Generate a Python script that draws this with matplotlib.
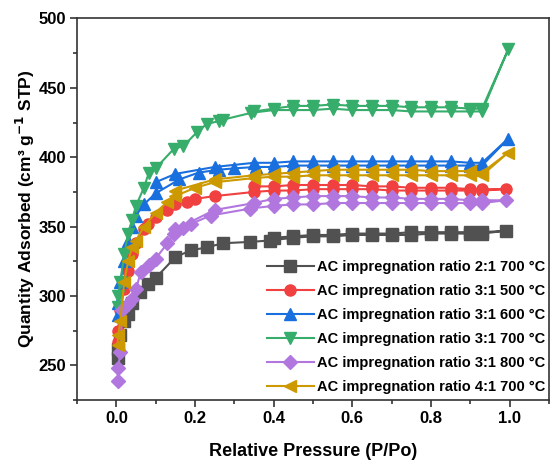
import numpy as np
import matplotlib.pyplot as plt

plt.rcParams['font.family'] = ['Liberation Sans', 'DejaVu Sans']
plt.rcParams['font.weight'] = 'bold'

# adsorption branch followed by desorption branch (P/Po, quantity adsorbed)
x_21_700 = [0.003, 0.005, 0.01, 0.02, 0.03, 0.04, 0.06, 0.08, 0.1, 0.15, 0.19, 0.23, 0.27, 0.34, 0.39, 0.45,
            0.5, 0.55, 0.6, 0.65, 0.7, 0.75, 0.8, 0.85, 0.9, 0.93, 0.99,
            0.93, 0.9, 0.85, 0.8, 0.75, 0.7, 0.65, 0.6, 0.55, 0.5, 0.45, 0.4]
y_21_700 = [255, 262, 272, 282, 287, 295, 303, 309, 313, 328, 333, 335, 338, 339, 340, 342,
            343, 343, 344, 344, 344, 344, 345, 345, 345, 345, 347,
            346, 346, 346, 346, 346, 345, 345, 345, 344, 344, 343, 342]

x_31_500 = [0.003, 0.005, 0.01, 0.02, 0.03, 0.04, 0.05, 0.07, 0.08, 0.1, 0.13, 0.15, 0.18, 0.2, 0.25,
            0.35, 0.4, 0.45, 0.5, 0.55, 0.6, 0.65, 0.7, 0.75, 0.8, 0.85, 0.9, 0.93, 0.99,
            0.93, 0.9, 0.85, 0.8, 0.75, 0.7, 0.65, 0.6, 0.55, 0.5, 0.45, 0.4, 0.35]
y_31_500 = [267, 275, 290, 305, 318, 330, 338, 348, 352, 357, 362, 366, 368, 370, 372,
            375, 376, 376, 377, 377, 377, 377, 376, 376, 376, 376, 376, 376, 377,
            377, 377, 378, 378, 378, 379, 379, 380, 380, 380, 380, 379, 379]

x_31_600 = [0.003, 0.005, 0.01, 0.02, 0.03, 0.04, 0.05, 0.07, 0.1, 0.16, 0.21, 0.26, 0.3, 0.355,
            0.4, 0.45, 0.5, 0.55, 0.6, 0.65, 0.7, 0.75, 0.8, 0.85, 0.9, 0.93, 0.995,
            0.93, 0.9, 0.85, 0.8, 0.75, 0.7, 0.65, 0.6, 0.55, 0.5, 0.45, 0.4, 0.35, 0.25, 0.15, 0.1]
y_31_600 = [286, 295, 310, 325, 340, 350, 358, 366, 374, 384, 389, 391, 392, 393,
            393, 394, 394, 394, 394, 394, 394, 394, 394, 394, 394, 394, 413,
            396, 396, 397, 397, 397, 397, 397, 397, 397, 397, 397, 396, 396, 393, 388, 382]

x_31_700 = [0.003, 0.005, 0.01, 0.02, 0.03, 0.04, 0.05, 0.07, 0.083, 0.1, 0.146, 0.17, 0.205, 0.23,
            0.26, 0.27, 0.343, 0.4, 0.45, 0.5, 0.55, 0.6, 0.65, 0.7, 0.75, 0.8, 0.85, 0.9, 0.93, 0.997,
            0.93, 0.9, 0.85, 0.8, 0.75, 0.7, 0.65, 0.6, 0.55, 0.5, 0.45, 0.4, 0.35]
y_31_700 = [292, 300, 310, 330, 345, 355, 365, 378, 389, 392, 406, 408, 418, 424,
            426, 427, 432, 434, 434, 434, 435, 434, 434, 434, 433, 433, 433, 433, 433, 478,
            435, 435, 436, 436, 436, 437, 437, 437, 438, 437, 437, 435, 433]

x_31_800 = [0.003, 0.005, 0.01, 0.015, 0.03, 0.04, 0.05, 0.062, 0.083, 0.1, 0.13, 0.147, 0.17, 0.19, 0.24,
            0.34, 0.4, 0.45, 0.5, 0.55, 0.6, 0.65, 0.7, 0.75, 0.8, 0.85, 0.9, 0.93, 0.99,
            0.93, 0.9, 0.85, 0.8, 0.75, 0.7, 0.65, 0.6, 0.55, 0.5, 0.45, 0.4, 0.35, 0.25, 0.15]
y_31_800 = [239, 248, 260, 290, 294, 298, 305, 317, 322, 327, 338, 345, 349, 352, 358,
            363, 365, 366, 366, 367, 367, 367, 367, 367, 367, 367, 367, 367, 369,
            369, 369, 370, 370, 370, 371, 371, 372, 372, 372, 371, 370, 367, 362, 348]

x_41_700 = [0.003, 0.005, 0.01, 0.02, 0.03, 0.04, 0.05, 0.07, 0.1, 0.13, 0.15, 0.2, 0.25, 0.35,
            0.4, 0.45, 0.5, 0.55, 0.6, 0.65, 0.7, 0.75, 0.8, 0.85, 0.9, 0.93, 0.995,
            0.93, 0.9, 0.85, 0.8, 0.75, 0.7, 0.65, 0.6, 0.55, 0.5, 0.45, 0.4, 0.35, 0.25, 0.15]
y_41_700 = [265, 272, 282, 310, 325, 335, 340, 350, 360, 368, 372, 378, 382, 385,
            386, 386, 387, 387, 387, 387, 387, 387, 387, 387, 387, 387, 403,
            389, 390, 390, 390, 391, 391, 391, 391, 391, 390, 389, 388, 387, 384, 376]

series = [
    ('AC impregnation ratio 2:1 700 °C', x_21_700, y_21_700, '#515151', 's'),
    ('AC impregnation ratio 3:1 500 °C', x_31_500, y_31_500, '#F14040', 'o'),
    ('AC impregnation ratio 3:1 600 °C', x_31_600, y_31_600, '#1A6FDF', '^'),
    ('AC impregnation ratio 3:1 700 °C', x_31_700, y_31_700, '#37AD6B', 'v'),
    ('AC impregnation ratio 3:1 800 °C', x_31_800, y_31_800, '#B177DE', 'D'),
    ('AC impregnation ratio 4:1 700 °C', x_41_700, y_41_700, '#CC9900', '<'),
]

fig = plt.figure(figsize=(5.5, 4.62), dpi=100)
ax = fig.add_axes([0.140, 0.134, 0.858, 0.826])

for label, xs, ys, c, m in series:
    ms = 7 if m == 'D' else 8
    ax.plot(xs, ys, color=c, marker=m, markersize=ms, lw=1.5, label=label)

ax.set_xlim(-0.1, 1.1)
ax.set_ylim(225, 500)
ax.set_xticks(np.arange(0, 1.01, 0.2))
ax.set_xticks(np.arange(-0.1, 1.11, 0.1), minor=True)
ax.set_yticks(np.arange(250, 501, 50))
ax.set_yticks(np.arange(225, 501, 25), minor=True)
ax.tick_params(which='major', length=5, width=1.2, labelsize=12, pad=3,
               colors='#333333', labelcolor='black')
ax.tick_params(which='minor', length=3, width=1.2, colors='#333333')
for lab in ax.get_xticklabels() + ax.get_yticklabels():
    lab.set_fontweight('bold')
for s in ax.spines.values():
    s.set_linewidth(1.2)
    s.set_color('#333333')

ax.set_xlabel('Relative Pressure (P/Po)', fontsize=13, fontweight='bold', labelpad=12)
ax.set_ylabel('Quantity Adsorbed (cm³ g$^{\\mathbf{-1}}$ STP)', fontsize=12.5, fontweight='bold', labelpad=1)

ax.legend(loc='lower right', bbox_to_anchor=(1.015, -0.01), frameon=False, handlelength=3.2,
          labelspacing=0.68, borderaxespad=0.3, handletextpad=0.25,
          prop={'weight': 'bold', 'size': 10.5})

fig.savefig('out.png', dpi=100)
